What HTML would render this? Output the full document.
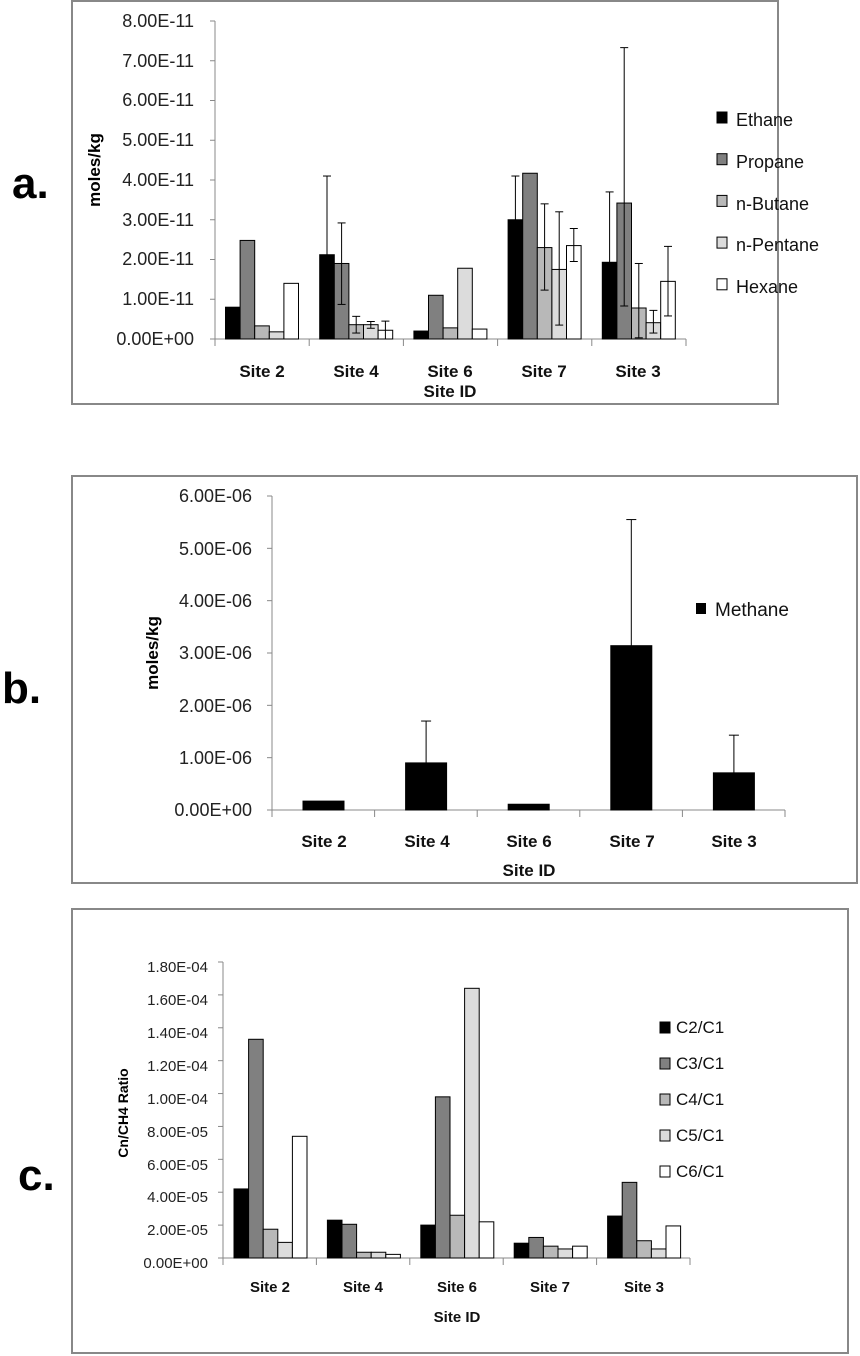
<!DOCTYPE html>
<html><head><meta charset="utf-8"><style>
html,body{margin:0;padding:0;background:#fff;}
svg{display:block;font-family:"Liberation Sans",Arial,sans-serif;}
</style></head><body>
<svg id="s" width="860" height="1356" viewBox="0 0 860 1356" xmlns="http://www.w3.org/2000/svg">
<rect x="0" y="0" width="860" height="1356" fill="#fff"/>
<rect x="72" y="1" width="706" height="403" fill="none" stroke="#888" stroke-width="2"/>
<rect x="72" y="476" width="785" height="407" fill="none" stroke="#888" stroke-width="2"/>
<rect x="72" y="909" width="776" height="444" fill="none" stroke="#888" stroke-width="2"/>
<text x="12" y="198" font-size="44" font-weight="bold">a.</text>
<text x="2" y="703" font-size="44" font-weight="bold">b.</text>
<text x="18" y="1190" font-size="44" font-weight="bold">c.</text>

<g font-size="18" text-anchor="end" fill="#222">
<text x="194" y="27">8.00E-11</text><text x="194" y="67">7.00E-11</text><text x="194" y="106">6.00E-11</text>
<text x="194" y="146">5.00E-11</text><text x="194" y="186">4.00E-11</text><text x="194" y="226">3.00E-11</text>
<text x="194" y="265">2.00E-11</text><text x="194" y="305">1.00E-11</text><text x="194" y="345">0.00E+00</text>
</g>
<text transform="translate(100,170) rotate(-90)" font-size="17" font-weight="bold" text-anchor="middle">moles/kg</text>
<g font-size="17" font-weight="bold" text-anchor="middle" fill="#111">
<text x="262" y="377">Site 2</text><text x="356" y="377">Site 4</text><text x="450" y="377">Site 6</text>
<text x="544" y="377">Site 7</text><text x="638" y="377">Site 3</text><text x="450" y="397">Site ID</text>
</g>
<g font-size="18" fill="#111">
<text x="736" y="126">Ethane</text><text x="736" y="168">Propane</text><text x="736" y="210">n-Butane</text>
<text x="736" y="251">n-Pentane</text><text x="736" y="293">Hexane</text>
</g>

<g font-size="18" text-anchor="end" fill="#222">
<text x="252" y="502">6.00E-06</text><text x="252" y="555">5.00E-06</text><text x="252" y="607">4.00E-06</text>
<text x="252" y="659">3.00E-06</text><text x="252" y="712">2.00E-06</text><text x="252" y="764">1.00E-06</text>
<text x="252" y="816">0.00E+00</text>
</g>
<text transform="translate(158,653) rotate(-90)" font-size="17" font-weight="bold" text-anchor="middle">moles/kg</text>
<g font-size="17" font-weight="bold" text-anchor="middle" fill="#111">
<text x="324" y="847">Site 2</text><text x="427" y="847">Site 4</text><text x="529" y="847">Site 6</text>
<text x="632" y="847">Site 7</text><text x="734" y="847">Site 3</text><text x="529" y="876">Site ID</text>
</g>
<rect x="696" y="603" width="10" height="11" fill="#000"/>
<text x="715" y="616" font-size="19" fill="#111">Methane</text>

<g font-size="15" text-anchor="end" fill="#222">
<text x="208" y="972">1.80E-04</text><text x="208" y="1005">1.60E-04</text><text x="208" y="1038">1.40E-04</text>
<text x="208" y="1071">1.20E-04</text><text x="208" y="1104">1.00E-04</text><text x="208" y="1137">8.00E-05</text>
<text x="208" y="1170">6.00E-05</text><text x="208" y="1202">4.00E-05</text><text x="208" y="1235">2.00E-05</text>
<text x="208" y="1268">0.00E+00</text>
</g>
<text transform="translate(128,1113) rotate(-90)" font-size="14" font-weight="bold" text-anchor="middle">Cn/CH4 Ratio</text>
<g font-size="15" font-weight="bold" text-anchor="middle" fill="#111">
<text x="270" y="1292">Site 2</text><text x="363" y="1292">Site 4</text><text x="457" y="1292">Site 6</text>
<text x="550" y="1292">Site 7</text><text x="644" y="1292">Site 3</text><text x="457" y="1322">Site ID</text>
</g>
<g font-size="17" fill="#111">
<text x="676" y="1033">C2/C1</text><text x="676" y="1069">C3/C1</text><text x="676" y="1105">C4/C1</text>
<text x="676" y="1141">C5/C1</text><text x="676" y="1177">C6/C1</text>
</g>
<g id="g"></g>
</svg>
<script>
var g=document.getElementById('g'),h='';
function R(x,y,w,hh,f){h+='<rect x="'+x+'" y="'+y+'" width="'+w+'" height="'+hh+'" fill="'+f+'" stroke="#000" stroke-width="1"/>';}
function L(x1,y1,x2,y2,c,w){h+='<line x1="'+x1+'" y1="'+y1+'" x2="'+x2+'" y2="'+y2+'" stroke="'+(c||'#000')+'" stroke-width="'+(w||1)+'"/>';}
var cols=['#000','#808080','#b8b8b8','#dcdcdc','#fff'];
function axes(x0,x1,y0,y1,nt,ny){
  L(x0,y0,x0,y1,'#888');L(x0,y1,x1,y1,'#888');
  for(var i=0;i<=ny;i++){var y=y1-(y1-y0)*i/ny;L(x0-5,y,x0,y,'#888');}
  for(var j=0;j<=nt;j++){var x=x0+(x1-x0)*j/nt;L(x,y1,x,y1+7,'#888');}
}
axes(215,686,21,339,5,8);
var A=[[.8,2.48,.33,.18,1.4],[2.12,1.9,.36,.36,.22],[.2,1.1,.28,1.78,.25],[3.0,4.17,2.3,1.75,2.35],[1.93,3.42,.78,.41,1.45]];
var EA={ '1,0':[2.12,4.1],'1,1':[.87,2.92],'1,2':[.15,.57],'1,3':[.27,.44],'1,4':[0,.45],
 '3,0':[3.0,4.1],'3,2':[1.23,3.4],'3,3':[.35,3.2],'3,4':[1.95,2.78],
 '4,0':[1.93,3.7],'4,1':[.83,7.33],'4,2':[.03,1.9],'4,3':[.15,.72],'4,4':[.58,2.33]};
var sa=94.2,ua=39.75;
for(var c=0;c<5;c++)for(var s=0;s<5;s++){
 var x=215+c*sa+10.5+s*14.6,v=A[c][s];R(x,339-v*ua,14.6,v*ua,cols[s]);
 var e=EA[c+','+s];if(e){var cx=x+7.3;L(cx,339-e[0]*ua,cx,339-e[1]*ua);L(cx-4,339-e[1]*ua,cx+4,339-e[1]*ua);if(s!=0)L(cx-4,339-e[0]*ua,cx+4,339-e[0]*ua);}
}
for(var s=0;s<5;s++)R(717,112+s*41.7,10,11,cols[s]);
axes(272,785,496,810,5,6);
var B=[.17,.9,.11,3.14,.71],EB=[0,1.7,0,5.55,1.43],ub=52.33;
for(var c=0;c<5;c++){var x=272+c*102.6+31;R(x,810-B[c]*ub,41,B[c]*ub,'#000');
 if(EB[c]){var cx=x+20.5;L(cx,810-B[c]*ub,cx,810-EB[c]*ub);L(cx-5,810-EB[c]*ub,cx+5,810-EB[c]*ub);}}
axes(223,690,962,1258,5,9);
var C=[[4.2,13.3,1.75,0.95,7.4],[2.3,2.05,.35,.35,.22],[2.0,9.8,2.6,16.4,2.2],[.9,1.25,.72,.55,.72],[2.55,4.6,1.05,.55,1.95]];
var uc=296/18;
for(var c=0;c<5;c++)for(var s=0;s<5;s++){var x=223+c*93.4+11+s*14.6,v=C[c][s];R(x,1258-v*uc,14.6,v*uc,cols[s]);}
for(var s=0;s<5;s++)R(660,1022+s*36,10,11,cols[s]);
g.innerHTML=h;
</script>
</body></html>
